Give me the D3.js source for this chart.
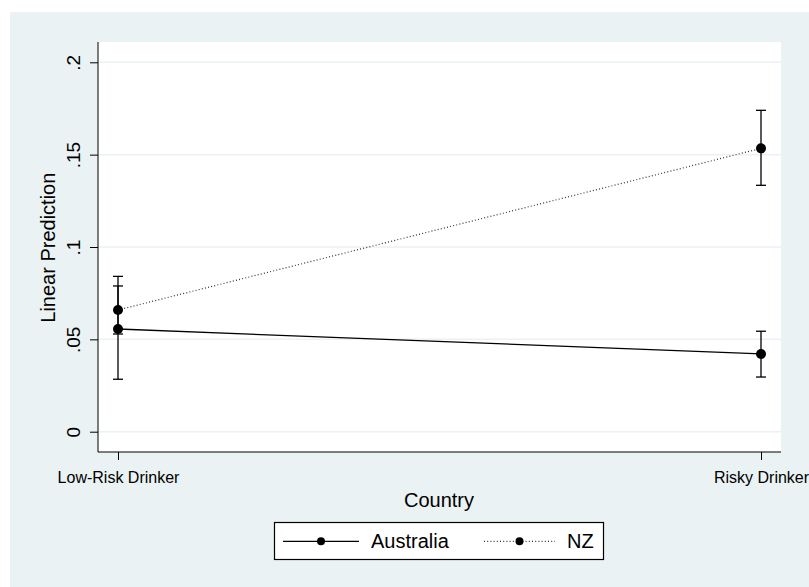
<!DOCTYPE html>
<html>
<head>
<meta charset="utf-8">
<script src="https://cdn.jsdelivr.net/npm/d3@7"></script>
<style>
  body { margin: 0; background: #fff; }
  text { font-family: "Liberation Sans", Arial, sans-serif; fill: #000; }
</style>
</head>
<body>
<div id="chart"></div>
<script>
const categories = ['Low-Risk Drinker', 'Risky Drinker'];
const yTicks = [0, 0.05, 0.1, 0.15, 0.2];
const yTickLabels = ['0', '.05', '.1', '.15', '.2'];

const ausMean = [0.0556, 0.0421];
const ausLow = [0.0284, 0.0296];
const ausHigh = [0.0841, 0.0544];

const nzMean = [0.0659, 0.1534];
const nzLow = [0.0529, 0.1334];
const nzHigh = [0.0789, 0.1740];

const series = [
  { name: 'Australia', mean: ausMean, low: ausLow, high: ausHigh, dash: null },
  { name: 'NZ', mean: nzMean, low: nzLow, high: nzHigh, dash: '1,2.2' },
];

const width = 809, height = 587;
const bg = '#eaf2f3';

const svg = d3.select('#chart').append('svg')
  .attr('width', width).attr('height', height);

svg.append('rect').attr('x', 10).attr('y', 12)
  .attr('width', width - 10).attr('height', height - 12).attr('fill', bg);

const plot = { left: 98, right: 781, top: 42, bottom: 452 };
svg.append('rect')
  .attr('x', plot.left).attr('y', plot.top)
  .attr('width', plot.right - plot.left).attr('height', plot.bottom - plot.top)
  .attr('fill', '#fff');

const x = d3.scalePoint().domain(categories).range([118, 761]);
const y = d3.scaleLinear().domain([0, 0.2]).range([431.7, 62.3]);

// gridlines
svg.append('g').selectAll('line').data(yTicks).join('line')
  .attr('x1', plot.left).attr('x2', plot.right)
  .attr('y1', d => y(d)).attr('y2', d => y(d))
  .attr('stroke', bg).attr('stroke-width', 1.5);

// y axis
const yAxis = svg.append('g').attr('transform', `translate(${plot.left},0)`)
  .call(d3.axisLeft(y).tickValues(yTicks).tickFormat((d, i) => yTickLabels[i]).tickSizeOuter(0).tickSize(8).tickPadding(4));
yAxis.select('.domain').attr('d', `M0,${plot.top}V${plot.bottom}`).attr('stroke', '#000');
yAxis.selectAll('.tick line').attr('stroke', '#000');
yAxis.selectAll('.tick text')
  .attr('font-size', 19).attr('font-family', '"Liberation Sans", Arial, sans-serif')
  .attr('fill', '#000')
  .attr('transform', 'rotate(-90)')
  .attr('x', 0).attr('y', -18).attr('dy', 0)
  .attr('text-anchor', 'middle')
  .each(function(d) { d3.select(this).attr('transform', `translate(0,0) rotate(-90)`); });

// x axis
const xAxis = svg.append('g').attr('transform', `translate(0,${plot.bottom})`)
  .call(d3.axisBottom(x).tickSizeOuter(0).tickSize(8).tickPadding(12));
xAxis.select('.domain').attr('d', `M${plot.left},0H${plot.right}`).attr('stroke', '#000');
xAxis.selectAll('.tick line').attr('stroke', '#000');
xAxis.selectAll('.tick text')
  .attr('font-size', 16).attr('font-family', '"Liberation Sans", Arial, sans-serif')
  .attr('fill', '#000');

// axis titles
svg.append('text').attr('x', 439).attr('y', 506.5)
  .attr('text-anchor', 'middle').attr('font-size', 20).text('Country');
svg.append('text')
  .attr('transform', `translate(55,247.7) rotate(-90)`)
  .attr('text-anchor', 'middle').attr('font-size', 20).text('Linear Prediction');

const line = d3.line().x((d, i) => x(categories[i])).y(d => y(d));

series.forEach(s => {
  const g = svg.append('g');
  // CI bars
  categories.forEach((c, i) => {
    const cx = x(c);
    g.append('line').attr('x1', cx).attr('x2', cx)
      .attr('y1', y(s.low[i])).attr('y2', y(s.high[i]))
      .attr('stroke', '#000').attr('stroke-width', 1.3);
    [s.low[i], s.high[i]].forEach(v => {
      g.append('line').attr('x1', cx - 5).attr('x2', cx + 5)
        .attr('y1', y(v)).attr('y2', y(v))
        .attr('stroke', '#000').attr('stroke-width', 1.3);
    });
  });
  g.append('path').attr('d', line(s.mean))
    .attr('fill', 'none').attr('stroke', s.dash ? '#333' : '#000')
    .attr('stroke-width', s.dash ? 1.2 : 1.3)
    .attr('stroke-dasharray', s.dash);
  g.selectAll('circle').data(s.mean).join('circle')
    .attr('cx', (d, i) => x(categories[i])).attr('cy', d => y(d))
    .attr('r', 5).attr('fill', '#000');
});

// legend
const lg = svg.append('g');
lg.append('rect').attr('x', 274.5).attr('y', 522.5).attr('width', 329).attr('height', 37)
  .attr('fill', '#fff').attr('stroke', '#000').attr('stroke-width', 1.2);
const legendItems = [
  { s: series[0], x1: 283, x2: 359, tx: 371 },
  { s: series[1], x1: 484, x2: 555, tx: 567 },
];
legendItems.forEach(it => {
  const ly = 541.3;
  lg.append('line').attr('x1', it.x1).attr('x2', it.x2).attr('y1', ly).attr('y2', ly)
    .attr('stroke', it.s.dash ? '#333' : '#000').attr('stroke-width', 1.2)
    .attr('stroke-dasharray', it.s.dash);
  lg.append('circle').attr('cx', (it.x1 + it.x2) / 2).attr('cy', ly).attr('r', 4).attr('fill', '#000');
  lg.append('text').attr('x', it.tx).attr('y', ly + 7).attr('font-size', 20).text(it.s.name);
});
</script>
</body>
</html>
